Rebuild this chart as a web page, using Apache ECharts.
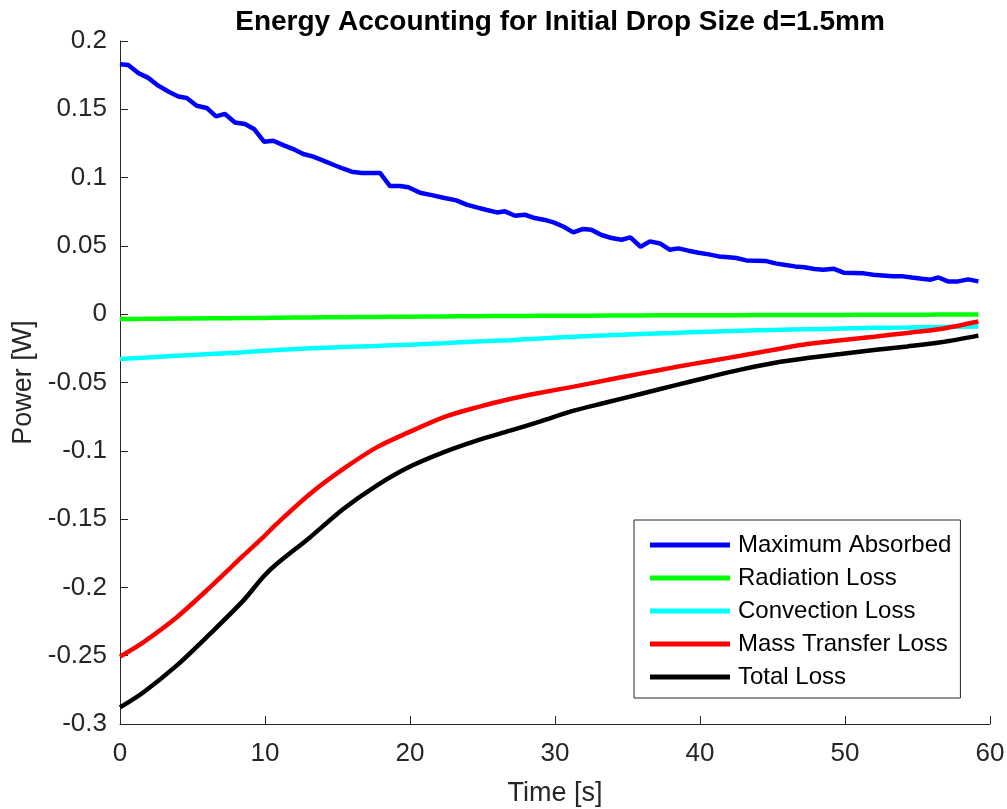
<!DOCTYPE html>
<html>
<head>
<meta charset="utf-8">
<script src="https://cdn.jsdelivr.net/npm/echarts@6/dist/echarts.min.js"></script>
<style>
  html, body { margin: 0; padding: 0; background: #fff; }
  #chart { width: 1007px; height: 809px; }
</style>
</head>
<body>
<div id="chart"></div>
<script>
// Power absorbed by the drop (noisy measurement series)
const absorbedTime = [0, 0.57, 1.26, 1.95, 2.64, 3.33, 4.02, 4.6, 5.29, 5.98, 6.62, 7.24, 7.93, 8.62, 9.24, 9.93,
  10.57, 11.26, 11.95, 12.64, 13.33, 14.02, 14.71, 15.4, 15.98, 16.66, 17.93, 18.62, 19.31, 19.89, 20.69, 21.5,
  22.3, 23.2, 23.9, 24.6, 25.3, 26.0, 26.55, 27.24, 27.93, 28.6, 29.3, 29.9, 30.6, 31.26, 31.95, 32.5, 33.2,
  33.9, 34.6, 35.2, 35.9, 36.55, 37.24, 37.9, 38.5, 39.2, 39.9, 40.6, 41.3, 41.8, 42.5, 43.2, 43.9, 44.5, 45.2,
  45.9, 46.55, 47.2, 47.9, 48.5, 49.2, 49.9, 50.6, 51.3, 51.95, 52.6, 53.3, 54.0, 54.6, 55.3, 55.9, 56.45, 57.1,
  57.8, 58.5, 59.2];
const absorbedPower = [0.183, 0.1824, 0.1766, 0.173, 0.1673, 0.163, 0.1594, 0.1583, 0.1526, 0.151, 0.1448, 0.1466,
  0.1404, 0.1392, 0.1356, 0.1263, 0.127, 0.1238, 0.1209, 0.1173, 0.1153, 0.1124, 0.1094, 0.1065, 0.1043, 0.1034,
  0.1034, 0.0938, 0.0938, 0.0929, 0.0889, 0.0872, 0.0853, 0.0833, 0.0802, 0.0782, 0.0763, 0.0745, 0.0753, 0.0721,
  0.0728, 0.0704, 0.069, 0.0672, 0.064, 0.0599, 0.0624, 0.0619, 0.058, 0.0558, 0.0545, 0.0562, 0.0494, 0.0533,
  0.0518, 0.0472, 0.0482, 0.0465, 0.045, 0.0438, 0.0423, 0.0418, 0.0411, 0.0394, 0.0392, 0.039, 0.0372, 0.036,
  0.035, 0.0343, 0.0331, 0.0326, 0.0333, 0.0304, 0.0302, 0.0299, 0.0289, 0.0284, 0.0277, 0.0277, 0.0269, 0.026,
  0.0253, 0.0269, 0.024, 0.024, 0.0255, 0.024];

// Loss terms share one time base
const lossTime = [0, 1.6, 3.9, 6.2, 8.5, 9.9, 10.8, 13.1, 15.4, 17.7, 19.9, 22.3, 24.6, 26.9, 29.0, 31.3, 33.6,
  35.9, 38.2, 40.5, 42.8, 45.1, 47.4, 49.7, 52.0, 54.3, 56.6, 59.2];
const radiationLoss = [-0.0035, -0.0034, -0.0032, -0.0030, -0.0028, -0.0027, -0.0026, -0.0024, -0.0022, -0.0020,
  -0.0018, -0.0016, -0.0015, -0.0013, -0.0012, -0.0011, -0.0010, -0.0009, -0.0008, -0.0007, -0.0007, -0.0006,
  -0.0005, -0.0005, -0.0004, -0.0004, -0.0003, -0.0003];
const convectionLoss = [-0.0328, -0.0318, -0.0305, -0.0292, -0.0278, -0.0268, -0.0262, -0.0250, -0.0240, -0.0233,
  -0.0223, -0.0212, -0.0200, -0.0190, -0.0178, -0.0165, -0.0155, -0.0145, -0.0137, -0.0128, -0.0121, -0.0115,
  -0.0110, -0.0105, -0.0100, -0.0097, -0.0094, -0.0090];
const massTransferLoss = [-0.2507, -0.2402, -0.2220, -0.2000, -0.1768, -0.1630, -0.1535, -0.1316, -0.1133, -0.0975,
  -0.0865, -0.0755, -0.0682, -0.0621, -0.0575, -0.0530, -0.0482, -0.0435, -0.0389, -0.0346, -0.0304, -0.0260,
  -0.0218, -0.0190, -0.0165, -0.0137, -0.0108, -0.0053];
const totalLoss = [-0.2878, -0.2769, -0.2573, -0.2341, -0.2097, -0.1920, -0.1829, -0.1634, -0.1426, -0.1255,
  -0.1121, -0.1012, -0.0926, -0.0853, -0.0785, -0.0706, -0.0645, -0.0584, -0.0523, -0.0463, -0.0406, -0.0357,
  -0.0321, -0.0292, -0.0262, -0.0236, -0.0206, -0.0157];

const seriesNames = ['Maximum Absorbed', 'Radiation Loss', 'Convection Loss', 'Mass Transfer Loss', 'Total Loss'];
const seriesColors = ['#0000ff', '#00ff00', '#00ffff', '#ff0000', '#000000'];

const pairs = (t, v) => t.map((x, i) => [x, v[i]]);
const seriesData = [
  pairs(absorbedTime, absorbedPower),
  pairs(lossTime, radiationLoss),
  pairs(lossTime, convectionLoss),
  pairs(lossTime, massTransferLoss),
  pairs(lossTime, totalLoss)
];

const axisColor = '#262626';
const font = '"Liberation Sans", Arial, Helvetica, sans-serif';

const chart = echarts.init(document.getElementById('chart'), null, { renderer: 'canvas' });
chart.setOption({
  animation: false,
  backgroundColor: '#ffffff',
  title: {
    text: 'Energy Accounting for Initial Drop Size d=1.5mm',
    left: 555, textAlign: 'center', top: 3,
    textStyle: { fontFamily: font, fontSize: 28, fontWeight: 'bold', color: '#000' }
  },
  grid: { left: 120, right: 17, top: 41, bottom: 85, containLabel: false, outerBoundsMode: 'none' },
  xAxis: {
    type: 'value', min: 0, max: 60, interval: 10,
    name: 'Time [s]', nameLocation: 'middle', nameGap: 56,
    nameTextStyle: { fontFamily: font, fontSize: 27, color: axisColor },
    axisLine: { show: true, onZero: false, lineStyle: { color: axisColor, width: 1 } },
    axisTick: { show: true, inside: true, length: 8, lineStyle: { color: axisColor } },
    axisLabel: { fontFamily: font, fontSize: 26, color: axisColor, margin: 17 },
    splitLine: { show: false }
  },
  yAxis: {
    type: 'value', min: -0.3, max: 0.2, interval: 0.05,
    name: 'Power [W]', nameLocation: 'middle', nameGap: 82,
    nameTextStyle: { fontFamily: font, fontSize: 27, color: axisColor },
    axisLine: { show: true, onZero: false, lineStyle: { color: axisColor, width: 1 } },
    axisTick: { show: true, inside: true, length: 8, lineStyle: { color: axisColor } },
    axisLabel: {
      fontFamily: font, fontSize: 26, color: axisColor, margin: 13,
      formatter: v => String(parseFloat(v.toFixed(2)))
    },
    splitLine: { show: false }
  },
  legend: {
    orient: 'vertical', left: 634, top: 520,
    data: seriesNames,
    icon: 'rect', itemWidth: 80, itemHeight: 5, itemGap: 9,
    padding: [13, 9, 9, 16],
    borderColor: axisColor, borderWidth: 1, backgroundColor: '#fff',
    textStyle: { fontFamily: font, fontSize: 24, color: '#000', padding: [0, 0, 0, 3] }
  },
  series: seriesNames.map((name, i) => ({
    name, type: 'line', data: seriesData[i],
    showSymbol: false, symbol: 'none',
    smooth: i === 0 ? false : 0.3,
    lineStyle: { color: seriesColors[i], width: 4.5 },
    itemStyle: { color: seriesColors[i] },
    z: 2 + i
  }))
});
</script>
</body>
</html>
